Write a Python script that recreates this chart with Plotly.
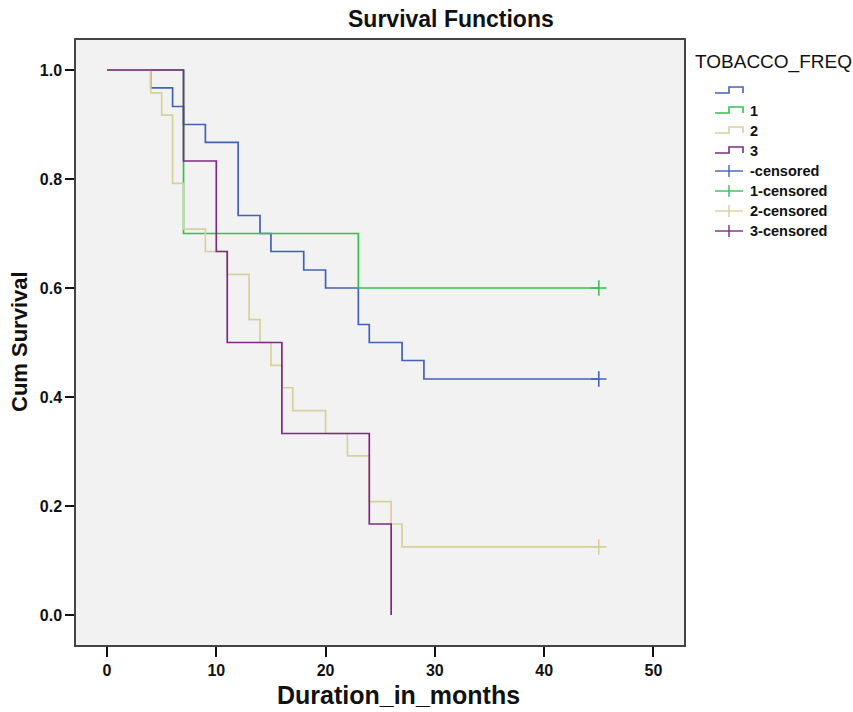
import plotly.graph_objects as go

# ---------------- data ----------------
groups = ["", "1", "2", "3"]
colors = ["#4361B8", "#34C04E", "#D6D19C", "#7F2A82"]

t_blank = [0, 4, 6, 7, 9, 12, 14, 15, 18, 20, 23, 24, 27, 29, 45]
s_blank = [1.0, 0.967, 0.933, 0.900, 0.867, 0.733, 0.700, 0.667, 0.633, 0.600, 0.533, 0.500, 0.467, 0.433, 0.433]

t_1 = [0, 7, 23, 45]
s_1 = [1.0, 0.700, 0.600, 0.600]

t_2 = [0, 4, 5, 6, 7, 9, 11, 13, 14, 15, 16, 17, 20, 22, 24, 26, 27, 45]
s_2 = [1.0, 0.958, 0.917, 0.792, 0.708, 0.667, 0.625, 0.542, 0.500, 0.458, 0.417, 0.375, 0.333, 0.292, 0.208, 0.167, 0.125, 0.125]

t_3 = [0, 7, 10, 11, 16, 24, 26]
s_3 = [1.0, 0.833, 0.667, 0.500, 0.333, 0.167, 0.0]

cens_t = [[45], [45], [45], []]
cens_s = [[0.433], [0.600], [0.125], []]

x_ticks = [0, 10, 20, 30, 40, 50]
y_ticks = [0.0, 0.2, 0.4, 0.6, 0.8, 1.0]

times = [t_blank, t_1, t_2, t_3]
survs = [s_blank, s_1, s_2, s_3]

# ---------------- layout geometry ----------------
W, H = 853, 712
L, R, T, B = 76, 684, 40, 645
FONT = "Liberation Sans, Arial, sans-serif"


def pxx(x):
    return (x - L) / (R - L)


def pxy(y):
    return (B - y) / (B - T)


fig = go.Figure()

for g, c, t, s in zip(groups, colors, times, survs):
    fig.add_trace(go.Scatter(x=t, y=s, mode="lines", line=dict(color=c, width=1.7, shape="hv"),
                             name=g, showlegend=False))

for g, c, ct, cs in zip(groups, colors, cens_t, cens_s):
    if ct:
        fig.add_trace(go.Scatter(x=ct, y=cs, mode="markers",
                                 marker=dict(symbol="cross-thin", size=11, line=dict(color=c, width=1.6)),
                                 name=g + "-censored", showlegend=False))

shapes = []
annotations = []

# title and axis titles
annotations.append(dict(text="<b>Survival Functions</b>", x=pxx(451), y=pxy(19), xref="paper", yref="paper",
                        showarrow=False, xanchor="center", yanchor="middle",
                        font=dict(family=FONT, size=23, color="#111")))
annotations.append(dict(text="<b>Duration_in_months</b>", x=pxx(398), y=pxy(695), xref="paper", yref="paper",
                        showarrow=False, xanchor="center", yanchor="middle",
                        font=dict(family=FONT, size=25, color="#111")))
annotations.append(dict(text="<b>Cum Survival</b>", x=pxx(19), y=pxy(342), xref="paper", yref="paper",
                        showarrow=False, xanchor="center", yanchor="middle", textangle=-90,
                        font=dict(family=FONT, size=22, color="#111")))

# legend (custom, SPSS-like glyphs)
annotations.append(dict(text="TOBACCO_FREQ", x=pxx(693), y=pxy(62), xref="paper", yref="paper",
                        showarrow=False, xanchor="left", yanchor="middle",
                        font=dict(family=FONT, size=19, color="#111")))
row_y = [90, 110, 130, 150, 171, 191, 211, 231]
gx0, gxm, gx1, lx = 715, 729, 743, 748
for i, (g, c) in enumerate(zip(groups, colors)):
    yc = row_y[i]
    path = "M {} {} L {} {} L {} {} L {} {} L {} {}".format(
        pxx(gx0), pxy(yc + 3), pxx(gxm), pxy(yc + 3), pxx(gxm), pxy(yc - 3),
        pxx(gx1), pxy(yc - 3), pxx(gx1), pxy(yc + 3))
    shapes.append(dict(type="path", path=path, xref="paper", yref="paper",
                       line=dict(color=c, width=1.6)))
    if g:
        annotations.append(dict(text="<b>" + g + "</b>", x=pxx(lx), y=pxy(yc + 1), xref="paper", yref="paper",
                                showarrow=False, xanchor="left", yanchor="middle",
                                font=dict(family=FONT, size=14.5, color="#111")))
for i, (g, c) in enumerate(zip(groups, colors)):
    yc = row_y[4 + i]
    shapes.append(dict(type="line", x0=pxx(gx0), x1=pxx(gx1), y0=pxy(yc), y1=pxy(yc), xref="paper", yref="paper",
                       line=dict(color=c, width=1.4)))
    shapes.append(dict(type="line", x0=pxx(gxm), x1=pxx(gxm), y0=pxy(yc - 6), y1=pxy(yc + 6), xref="paper",
                       yref="paper", line=dict(color=c, width=1.4)))
    annotations.append(dict(text="<b>" + g + "-censored</b>", x=pxx(lx), y=pxy(yc), xref="paper", yref="paper",
                            showarrow=False, xanchor="left", yanchor="middle",
                            font=dict(family=FONT, size=14.5, color="#111")))

x0v, x1v = -2.84, 52.8
y0v, y1v = -0.055, 1.055

fig.update_layout(
    width=W, height=H,
    margin=dict(l=L, r=W - R, t=T, b=H - B, pad=0),
    paper_bgcolor="white", plot_bgcolor="#F2F2F2",
    shapes=shapes, annotations=annotations,
    showlegend=False,
    font=dict(family=FONT, color="#111"),
    xaxis=dict(range=[x0v, x1v], tickvals=x_ticks, ticktext=["<b>" + str(v) + "</b>" for v in x_ticks],
               showgrid=False, zeroline=False, showline=True, mirror=True, linecolor="#444", linewidth=1.5,
               ticks="outside", ticklen=10, tickwidth=1.6, tickcolor="#111",
               tickfont=dict(family=FONT, size=16, color="#111")),
    yaxis=dict(range=[y0v, y1v], tickvals=y_ticks, ticktext=["<b>{:.1f}</b>".format(v) for v in y_ticks],
               showgrid=False, zeroline=False, showline=True, mirror=True, linecolor="#444", linewidth=1.5,
               ticks="outside", ticklen=9, tickwidth=1.6, tickcolor="#111",
               tickfont=dict(family=FONT, size=16, color="#111")),
)

fig.write_html("out.html")
